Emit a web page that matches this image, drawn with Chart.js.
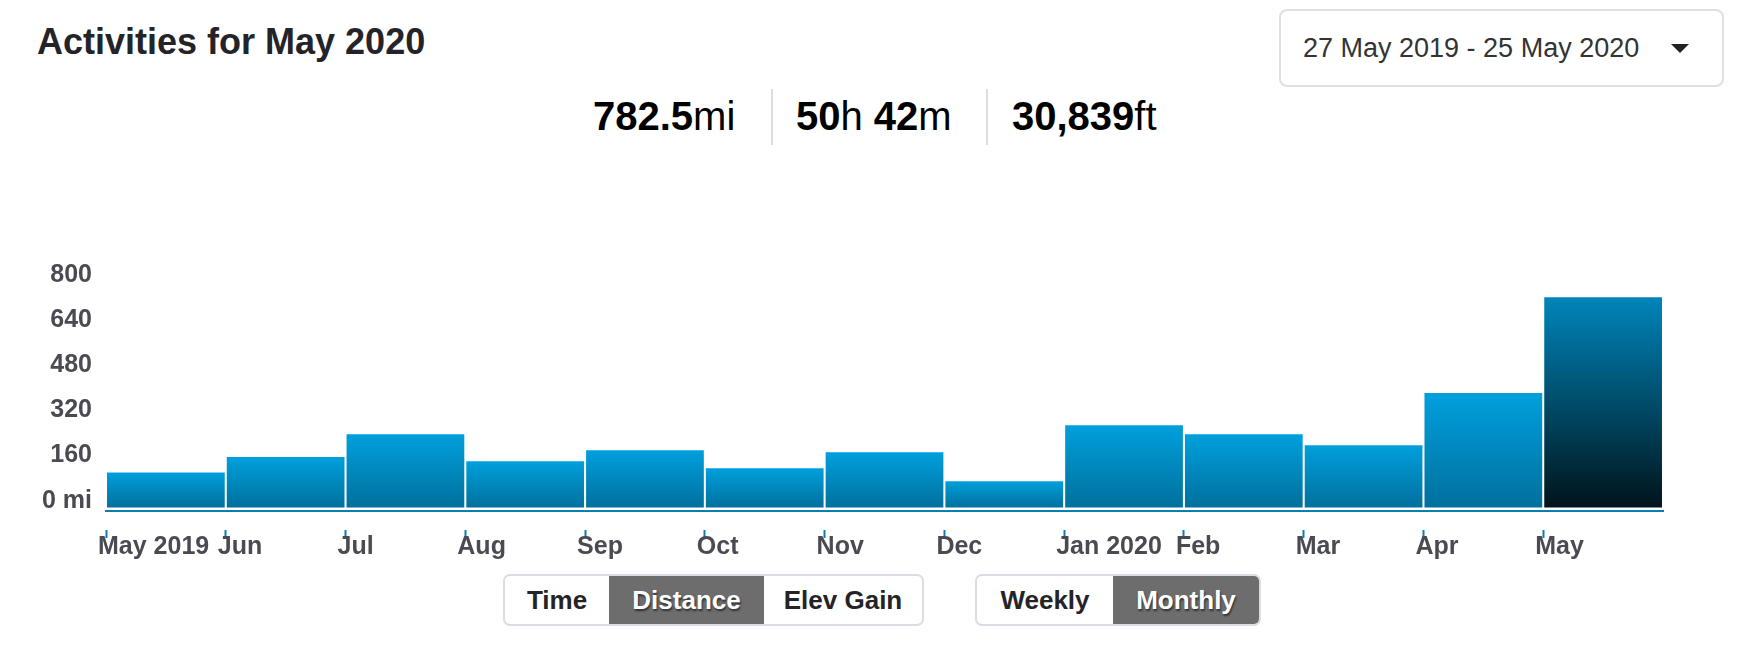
<!DOCTYPE html>
<html>
<head>
<meta charset="utf-8">
<script src="https://cdn.jsdelivr.net/npm/chart.js@4.4.0/dist/chart.umd.min.js"></script>
<style>
  body { margin: 0; width: 1744px; height: 661px; background: #fff; position: relative; overflow: hidden;
         font-family: "Liberation Sans", Arial, sans-serif; color: #242428; }
  .title { position: absolute; left: 37px; top: 24px; font-size: 36px; line-height: 36px; font-weight: bold; }
  .range { position: absolute; left: 1279px; top: 9px; width: 441px; height: 74px; border: 2px solid #dfdfe6;
           border-radius: 8px; box-sizing: content-box; }
  .range span { position: absolute; left: 22px; top: 22px; font-size: 27px; line-height: 30px; color: #333; }
  .range i { position: absolute; left: 390px; top: 33px; width: 0; height: 0;
             border-left: 9px solid transparent; border-right: 9px solid transparent; border-top: 9px solid #222; }
  .stat { position: absolute; top: 94px; font-size: 40px; line-height: 44px; color: #000; }
  .stat b { font-weight: bold; }
  .divider { position: absolute; top: 89px; width: 2px; height: 56px; background: #dcdce3; }
  .group { position: absolute; top: 574px; height: 48px; border: 2px solid #dcdce2; border-radius: 7px;
           display: flex; overflow: hidden; }
  .group div { font-size: 26px; font-weight: bold; line-height: 48px; text-align: center; color: #242428; }
  .group .on { background: #6d6d6d; color: #fff; text-shadow: 1px 2px 2px rgba(0,0,0,0.55); }
  #chart { position: absolute; left: 0; top: 240px; }
</style>
</head>
<body>
<div class="title">Activities for May 2020</div>
<div class="range"><span>27 May 2019 - 25 May 2020</span><i></i></div>

<div class="stat" style="left:593px"><b>782.5</b>mi</div>
<div class="divider" style="left:771px"></div>
<div class="stat" style="left:796px"><b>50</b>h <b>42</b>m</div>
<div class="divider" style="left:986px"></div>
<div class="stat" style="left:1012px"><b>30,839</b>ft</div>

<canvas id="chart" width="1744" height="331"></canvas>

<div class="group" style="left:503px; width:417px">
  <div style="width:104px">Time</div>
  <div class="on" style="width:155px">Distance</div>
  <div style="width:158px">Elev Gain</div>
</div>
<div class="group" style="left:975px; width:282px">
  <div style="width:136px">Weekly</div>
  <div class="on" style="width:146px">Monthly</div>
</div>

<script>
// monthly distance, miles
const months = ['May 2019', 'Jun', 'Jul', 'Aug', 'Sep', 'Oct', 'Nov', 'Dec', 'Jan 2020', 'Feb', 'Mar', 'Apr', 'May'];
const distances = [125, 180, 261, 165, 204, 140, 197, 94, 293, 261, 222, 407, 748];
const yTicks = [0, 160, 320, 480, 640, 800];

const blue = '#0a7db3';
const tickFont = { family: '"Liberation Sans", Arial, sans-serif', size: 25, weight: 'bold' };

// each bar sits between two month ticks
const points = distances.map((d, i) => ({ x: i + 0.5, y: d }));

function barFill(context) {
  const chart = context.chart;
  if (!chart.chartArea || context.type !== 'data') return '#0090c8';
  const yScale = chart.scales.y;
  const top = yScale.getPixelForValue(distances[context.dataIndex]);
  const bottom = yScale.getPixelForValue(0);
  const g = chart.ctx.createLinearGradient(0, top, 0, bottom);
  if (context.dataIndex === distances.length - 1) {
    // current month is drawn darker
    g.addColorStop(0, '#0085ba');
    g.addColorStop(1, '#00141b');
  } else {
    g.addColorStop(0, '#00a0dd');
    g.addColorStop(1, '#00709d');
  }
  return g;
}

const slot = 1557 / months.length;

new Chart(document.getElementById('chart'), {
  type: 'bar',
  data: {
    datasets: [{
      data: points,
      backgroundColor: barFill,
      borderWidth: 0,
      barPercentage: 1,
      categoryPercentage: 0.983
    }]
  },
  options: {
    responsive: false,
    animation: false,
    layout: { padding: { top: 42.5, right: 81, left: 0, bottom: 0 } },
    plugins: { legend: { display: false }, tooltip: { enabled: false } },
    scales: {
      x: {
        type: 'linear',
        offset: false,
        min: 0,
        max: months.length,
        afterFit: (scale) => { scale.height = 60; },
        border: { color: blue, width: 2, dash: [slot - 1.5, 1.5] },
        grid: {
          offset: false,
          drawOnChartArea: false,
          tickLength: 27,
          tickWidth: 2,
          tickColor: (ctx) => ctx.index >= months.length ? 'rgba(0,0,0,0)' : blue,
          tickBorderDash: [8, 18],
          tickBorderDashOffset: 8
        },
        ticks: {
          stepSize: 1,
          autoSkip: false,
          maxRotation: 0,
          align: 'start',
          labelOffset: -8,
          padding: -6,
          color: '#4a4a52',
          font: tickFont,
          callback: (v) => months[v] || ''
        }
      },
      y: {
        min: -12,
        max: 800,
        afterFit: (scale) => { scale.width = 106; },
        border: { display: false },
        grid: { display: false, drawTicks: false },
        afterBuildTicks: (scale) => { scale.ticks = yTicks.map(v => ({ value: v })); },
        ticks: {
          padding: 14,
          labelOffset: -7,
          color: '#4a4a52',
          font: tickFont,
          callback: (v) => v === 0 ? '0 mi' : String(v)
        }
      }
    }
  }
});
</script>
</body>
</html>
